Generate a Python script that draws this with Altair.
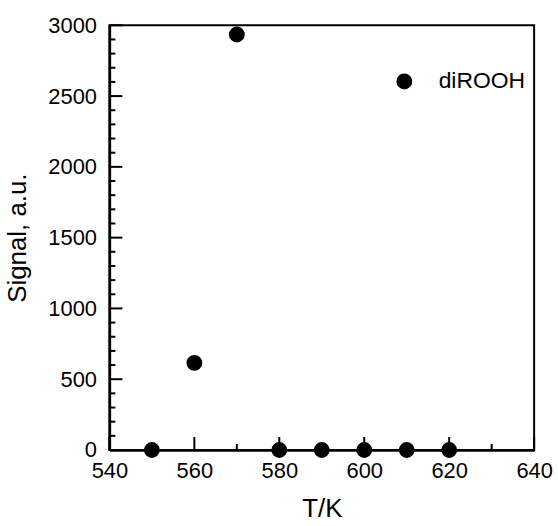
import altair as alt
import pandas as pd

# ---- data ----
temps = [550, 560, 570, 580, 590, 600, 610, 620]
signal = [0, 615, 2935, 0, 0, 0, 0, 0]
series_name = "diROOH"

x_major = [540, 560, 580, 600, 620, 640]
x_minor = [550, 570, 590, 610, 630]
y_major = [0, 500, 1000, 1500, 2000, 2500, 3000]
y_minor = [100, 200, 300, 400, 600, 700, 800, 900, 1100, 1200, 1300, 1400,
           1600, 1700, 1800, 1900, 2100, 2200, 2300, 2400, 2600, 2700, 2800, 2900]

# ---- layout / style ----
W, H = 427, 427
MAJOR, MINOR = 13, 6
FONT = "Liberation Sans"

df = pd.DataFrame({"T": temps, "S": signal, "series": [series_name] * len(temps)})
df_xmaj = pd.DataFrame({"T": x_major})
df_xmin = pd.DataFrame({"T": x_minor})
df_ymaj = pd.DataFrame({"S": y_major})
df_ymin = pd.DataFrame({"S": y_minor})

xscale = alt.Scale(domain=[540, 640], nice=False, zero=False)
yscale = alt.Scale(domain=[0, 3000], nice=False)

x_axis = alt.Axis(values=x_major, title="T/K", ticks=False, grid=False, labelFlush=False,
                  labelPadding=11, titlePadding=14, format="d")
y_axis = alt.Axis(values=y_major, title="Signal, a.u.", ticks=False, grid=False,
                  labelFlush=False, labelPadding=13, titlePadding=17, format="d")

xt_major = alt.Chart(df_xmaj).mark_rule(color="black", strokeWidth=2).encode(
    x=alt.X("T:Q", scale=xscale), y=alt.value(H), y2=alt.value(H - MAJOR))
xt_minor = alt.Chart(df_xmin).mark_rule(color="black", strokeWidth=2).encode(
    x=alt.X("T:Q", scale=xscale), y=alt.value(H), y2=alt.value(H - MINOR))
yt_major = alt.Chart(df_ymaj).mark_rule(color="black", strokeWidth=2).encode(
    y=alt.Y("S:Q", scale=yscale), x=alt.value(0), x2=alt.value(MAJOR))
yt_minor = alt.Chart(df_ymin).mark_rule(color="black", strokeWidth=2).encode(
    y=alt.Y("S:Q", scale=yscale), x=alt.value(0), x2=alt.value(MINOR))

points = alt.Chart(df).mark_circle(size=254, opacity=1).encode(
    x=alt.X("T:Q", scale=xscale, axis=x_axis),
    y=alt.Y("S:Q", scale=yscale, axis=y_axis),
    color=alt.Color("series:N", scale=alt.Scale(range=["black"]),
                    legend=alt.Legend(orient="none", legendX=285, legendY=45,
                                      title=None, labelFont=FONT, labelFontSize=23,
                                      labelColor="black", symbolType="circle",
                                      symbolSize=254, labelOffset=23, padding=0,
                                      symbolStrokeWidth=0, symbolOpacity=1)))

chart = alt.layer(points, xt_major, xt_minor, yt_major, yt_minor).properties(
    width=W, height=H,
    title=alt.TitleParams(" ", fontSize=6, offset=2),
).configure_view(
    stroke="black", strokeWidth=2
).configure_axis(
    domainColor="black", domainWidth=2.5,
    labelFont=FONT, labelFontSize=22, labelColor="black",
    titleFont=FONT, titleFontSize=26, titleFontWeight="normal", titleColor="black",
)

chart.save("out.html", embed_options={"renderer": "svg", "actions": False})
